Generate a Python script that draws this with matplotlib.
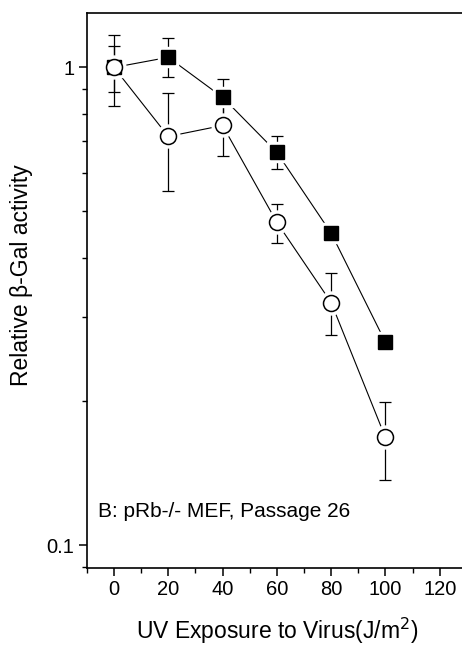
import numpy as np
import matplotlib
matplotlib.use("Agg")
import matplotlib.pyplot as plt
from matplotlib.ticker import LogLocator, NullFormatter, FixedLocator, MultipleLocator

plt.rcParams["font.family"] = ["Liberation Sans", "DejaVu Sans"]

# --- data ---
dose = [0, 20, 40, 60, 80, 100]

# filled squares
sq_val = [1.0, 1.05, 0.866, 0.664, 0.45, 0.266]
sq_lo = [0.89, 0.953, 0.79, 0.612, 0.44, 0.26]
sq_hi = [1.107, 1.15, 0.948, 0.717, 0.46, 0.272]

# open circles
ci_val = [1.0, 0.717, 0.756, 0.474, 0.322, 0.168]
ci_lo = [0.83, 0.55, 0.651, 0.43, 0.275, 0.137]
ci_hi = [1.17, 0.883, 0.87, 0.517, 0.371, 0.199]

panel_label = "B: pRb-/- MEF, Passage 26"

fig = plt.figure(figsize=(4.62, 6.47), dpi=100)
ax = fig.add_axes([0.188, 0.1226, 0.8225, 0.8573])


def yerr(val, lo, hi):
    v = np.asarray(val)
    return np.vstack([v - np.asarray(lo), np.asarray(hi) - v])


# error bars first
ax.errorbar(dose, ci_val, yerr=yerr(ci_val, ci_lo, ci_hi), fmt="none",
            ecolor="black", elinewidth=0.9, capsize=4, capthick=0.9, zorder=2)
ax.errorbar(dose, sq_val, yerr=yerr(sq_val, sq_lo, sq_hi), fmt="none",
            ecolor="black", elinewidth=0.9, capsize=4, capthick=0.9, zorder=2)

# connecting lines
ax.plot(dose, sq_val, color="black", lw=0.8, zorder=3)
ax.plot(dose, ci_val, color="black", lw=0.8, zorder=3)

# white halos so the lines stop short of the markers
ax.plot(dose, sq_val, ls="none", marker="s", ms=14, mfc="white", mec="white", zorder=4)
ax.plot(dose, ci_val, ls="none", marker="o", ms=16.5, mfc="white", mec="white", zorder=4)

# markers
ax.plot(dose, sq_val, ls="none", marker="s", ms=9.5, mfc="black", mec="black", zorder=5)
ax.plot(dose, ci_val, ls="none", marker="o", ms=11.5, mfc="white", mec="black", mew=1.1, zorder=6)

ax.set_yscale("log")
ax.set_xlim(-10, 130)
ax.set_ylim(0.0897, 1.30)

ax.xaxis.set_major_locator(FixedLocator([0, 20, 40, 60, 80, 100, 120]))
ax.xaxis.set_minor_locator(MultipleLocator(10))
ax.yaxis.set_major_locator(FixedLocator([0.1, 1]))
ax.yaxis.set_minor_locator(LogLocator(base=10, subs=np.arange(2, 10)))
ax.yaxis.set_minor_formatter(NullFormatter())
ax.set_yticklabels(["0.1", "1"])

ax.tick_params(which="major", direction="out", length=5.5, width=1.1, labelsize=14.5, pad=3.5)
ax.tick_params(which="minor", direction="out", length=3.5, width=1.0)

for side in ["left", "bottom", "top"]:
    ax.spines[side].set_linewidth(1.2)
ax.spines["right"].set_visible(False)

ax.text(-5.8, 0.1145, panel_label, fontsize=15, va="baseline", ha="left")

ax.set_xlabel("UV Exposure to Virus(J/m$^2$)", fontsize=16.5, labelpad=12)
ax.set_ylabel("Relative \u03b2-Gal activity", fontsize=16.5)
ax.yaxis.set_label_coords(-0.142, 0.527)

fig.savefig("out.png", dpi=100)
